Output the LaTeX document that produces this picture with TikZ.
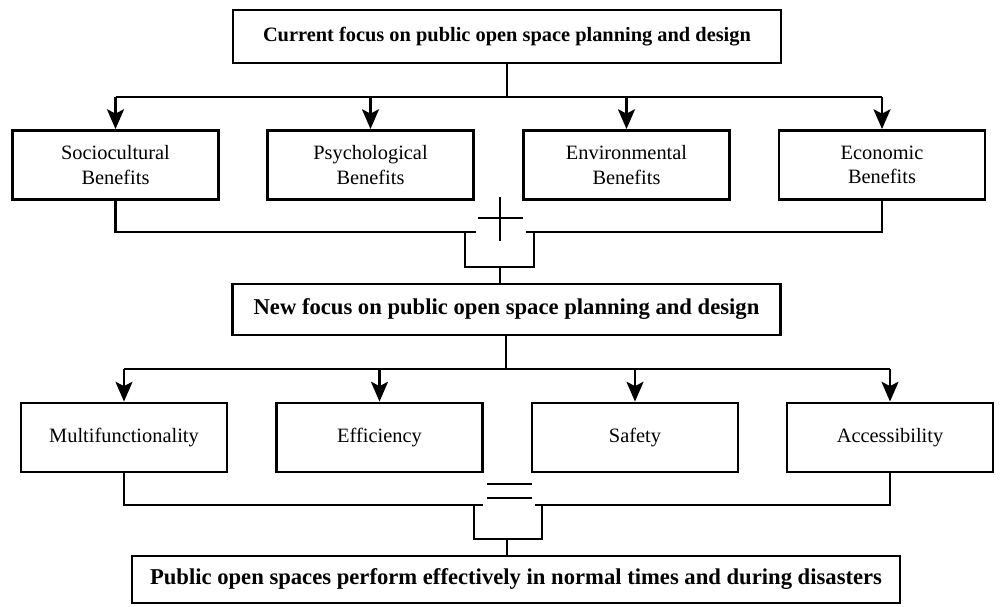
\documentclass[tikz,border=0pt]{standalone}
\usepackage{fontspec}
\setmainfont{Liberation Serif}
\usepackage{tikz}
\usetikzlibrary{arrows.meta,positioning,calc}

\begin{document}
\begin{tikzpicture}[x=0.025cm, y=-0.025cm,
    every node/.style={font=\fontsize{14.5}{17.5}\selectfont},
    focusbox/.style={draw, line width=1.9pt, inner sep=0pt, font=\fontsize{14.5}{17.5}\selectfont\bfseries},
    bigfocus/.style={focusbox, font=\fontsize{16.1}{19}\selectfont\bfseries},
    itembox/.style={draw, line width=1.9pt, inner sep=0pt, align=center,
                    minimum width=5.15cm, minimum height=1.73cm},
    link/.style={line width=2pt},
    linkarrow/.style={link, -{Stealth[length=14pt, width=12pt, inset=3pt]}}]
        \useasboundingbox (0,0) rectangle (1000,606);
        % top level
        \node[focusbox, minimum width=13.7cm, minimum height=1.32cm] (cur) at (507,36.5)
              {Current focus on public open space planning and design};
        \node[itembox] (socio) at (115.5,165) {Sociocultural\\Benefits};
        \node[itembox] (psych) at (370.5,165) {Psychological\\Benefits};
        \node[itembox] (envir) at (626.5,165) {Environmental\\Benefits};
        \node[itembox] (econ) at (882,165) {Economic\\Benefits};
        % second level
        \node[bigfocus, minimum width=13.68cm, minimum height=1.28cm] (new) at (506.5,309.5)
              {New focus on public open space planning and design};
        \node[itembox] (multi) at (124,437.5) {Multifunctionality};
        \node[itembox] (effic) at (379.5,437.5) {Efficiency};
        \node[itembox] (safe) at (635,437.5) {Safety};
        \node[itembox] (access) at (890,437.5) {Accessibility};
        % outcome
        \node[bigfocus, minimum width=19.2cm, minimum height=1.18cm] (out) at (516,579.5)
              {Public open spaces perform effectively in normal times and during disasters};

        % branching from the current focus
        \coordinate (fork1) at (507,97);
        \draw[link] (cur.south -| fork1) -- (fork1);
        \draw[link] (socio.north |- fork1) -- (econ.north |- fork1);
        \foreach \b in {socio, psych, envir, econ}
            \draw[linkarrow] (\b.north |- fork1) -- (\b.north);

        % sum of the benefits
        \coordinate (sumL) at (476,232);
        \coordinate (sumR) at (526,232);
        \coordinate (sum) at (500,267);
        \draw[link] (socio.south) |- (sumL);
        \draw[link] (econ.south) |- (sumR);
        \draw[link] (465,232) -- (465,267) -- (534,267) -- (534,232);
        \draw[link] (sum) -- (sum |- new.north);
        \draw[link] (500,197) -- (500,241);
        \draw[link] (478,218) -- (523,218);

        % branching from the new focus
        \coordinate (fork2) at (506,369);
        \draw[link] (new.south -| fork2) -- (fork2);
        \draw[link] (multi.north |- fork2) -- (access.north |- fork2);
        \foreach \b in {multi, effic, safe, access}
            \draw[linkarrow] (\b.north |- fork2) -- (\b.north);

        % result of the new focus
        \coordinate (resL) at (483,505);
        \coordinate (resR) at (535,505);
        \coordinate (res) at (507,539);
        \draw[link] (multi.south) |- (resL);
        \draw[link] (access.south) |- (resR);
        \draw[link] (474,505) -- (474,539) -- (542,539) -- (542,505);
        \draw[link] (res) -- (res |- out.north);
        \draw[link] (487,484) -- (532,484);
        \draw[link] (487,498) -- (532,498);
    \end{tikzpicture}
\end{document}
